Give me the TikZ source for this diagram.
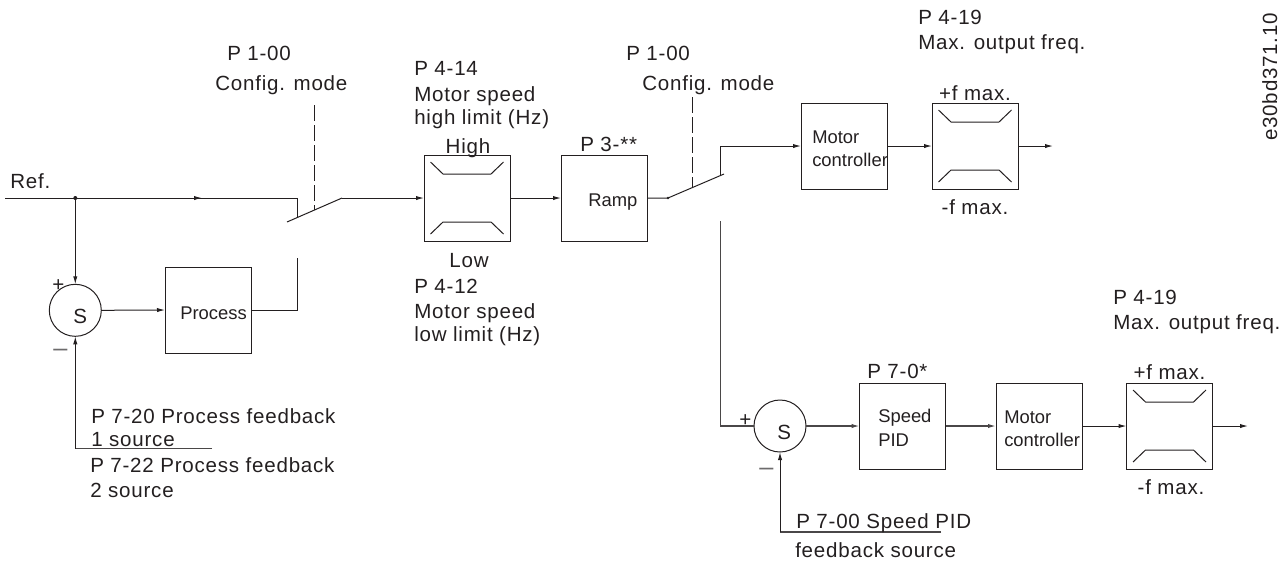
\documentclass[tikz,border=0pt]{standalone}
\usepackage{fontspec}
\setmainfont{Liberation Sans}
\newfontfamily\labfont[LetterSpace=3.8]{Liberation Sans}
\usetikzlibrary{arrows.meta}
\definecolor{ink}{HTML}{231F20}
\definecolor{heavyink}{HTML}{4A4748}
\definecolor{minusink}{HTML}{6D6B6C}
\tikzset{
 x=0.75pt,y=-0.75pt,
 wire/.style={draw=ink,line width=0.75pt},
 tip/.style={-{Latex[length=6pt,width=3.2pt]}},
 flow/.style={wire,tip},
 hflow/.style={draw=heavyink,line width=1pt,tip},
 hwire/.style={draw=heavyink,line width=1pt},
 blockbox/.style={draw=ink,line width=0.75pt,minimum width=64.5pt,minimum height=64.5pt,inner sep=0pt,outer sep=0pt},
 sumcirc/.style={circle,draw=ink,line width=0.75pt,minimum size=39pt,inner sep=0pt,outer sep=0pt},
 lab/.style={anchor=base west,inner sep=0pt,text=ink,font=\labfont\fontsize{15.4}{18}\selectfont},
 labc/.style={lab,anchor=base},
 boxlab/.style={anchor=base west,inner sep=0pt,text=ink,font=\fontsize{13.8}{16}\selectfont},
 minuslab/.style={lab,text=minusink,font=\fontsize{19}{20}\selectfont},
 dashsw/.style={wire,dash pattern=on 12pt off 3pt},
}
\newcommand{\limiter}[1]{%
 \draw[wire] ([shift={(6.5,7)}]#1.north west) -- ([shift={(19,19)}]#1.north west) -- ([shift={(-19,19)}]#1.north east) -- ([shift={(-6.5,7)}]#1.north east);
 \draw[wire] ([shift={(6.5,-7)}]#1.south west) -- ([shift={(19,-19)}]#1.south west) -- ([shift={(-19,-19)}]#1.south east) -- ([shift={(-6.5,-7)}]#1.south east);
}
\begin{document}
\begin{tikzpicture}
\useasboundingbox (0,0) rectangle (1287,562);
% blocks
\node[sumcirc] (s1) at (75.3,310.3) {};
\node[blockbox] (proc) at (208,310) {};
\node[blockbox] (lim1) at (467,198) {};
\node[blockbox] (ramp) at (604,198) {};
\node[blockbox] (mc1) at (844,146) {};
\node[blockbox] (lim2) at (975,146) {};
\node[sumcirc] (s2) at (780,426) {};
\node[blockbox] (pid) at (902.6,426) {};
\node[blockbox] (mc2) at (1039,426) {};
\node[blockbox] (lim3) at (1169.5,426) {};
\limiter{lim1}\limiter{lim2}\limiter{lim3}
% coordinates
\coordinate (refstart) at (5,198);
\coordinate (refmid) at (202,198);
\coordinate (j1) at (75.3,198);
\coordinate (c1) at (297,198);
\coordinate (c1b) at (297,217);
\coordinate (sw1a) at (287,222);
\coordinate (sw1b) at (342,198);
\coordinate (p1) at (297,310);
\coordinate (p1t) at (297,258);
\coordinate (d1t) at (314,105);
\coordinate (d1b) at (314,210);
\coordinate (sw2a) at (668,198);
\coordinate (sw2b) at (724,174);
\coordinate (u1) at (720.7,175);
\coordinate (u2) at (720.7,146);
\coordinate (d2t) at (692,97);
\coordinate (d2b) at (692,187);
\coordinate (v1) at (720.7,221);
\coordinate (v2) at (720.7,426);
\coordinate (o1) at (1053,146);
\coordinate (o2) at (1248,426);
\coordinate (f1a) at (75.3,448.7);
\coordinate (f1b) at (212,448.7);
\coordinate (f2a) at (780,532);
\coordinate (f2b) at (941,532);
% wires
\draw[wire] (refstart) -- (c1) -- (c1b);
\draw[flow] (refstart) -- (refmid);
\fill[ink] (j1) circle (1.5pt);
\draw[flow] (j1) -- (s1.north);
\draw[flow] (s1.east) -- (proc.west);
\draw[wire] (proc.east) -- (p1) -- (p1t);
\draw[wire] (sw1a) -- (sw1b);
\draw[dashsw] (d1t) -- (d1b);
\draw[flow] (sw1b) -- (lim1.west);
\draw[flow] (lim1.east) -- (ramp.west);
\draw[wire] (ramp.east) -- (sw2a) -- (sw2b);
\fill[ink] (sw2a) circle (1pt);
\draw[dashsw] (d2t) -- (d2b);
\draw[flow] (u1) -- (u2) -- (mc1.west);
\draw[flow] (mc1.east) -- (lim2.west);
\draw[flow] (lim2.east) -- (o1);
\draw[hwire] (v1) -- (v2) -- (s2.west);
\draw[hflow] (s2.east) -- (pid.west);
\draw[hflow] (pid.east) -- (mc2.west);
\draw[flow] (mc2.east) -- (lim3.west);
\draw[flow] (lim3.east) -- (o2);
\draw[hwire] (f1b) -- (f1a);
\draw[flow] (f1a) -- (s1.south);
\draw[hwire] (f2b) -- (f2a);
\draw[flow] (f2a) -- (s2.south);
% labels
\node[lab] (t1) at (10,188) {Ref.};
\node[lab] (t2) at (52,291) {+};
\node[minuslab] (t3) at (53,356) {–};
\node[lab] (t4) at (73,323) {S};
\node[boxlab] (t5) at (180,319) {Process};
\node[lab] (t6) at (91,423) {P 7-20 Process feedback};
\node[lab] (t7) at (91,446) {1 source};
\node[lab] (t8) at (90,472) {P 7-22 Process feedback};
\node[lab] (t9) at (90,497) {2 source};
\node[lab] (t10) at (227,60) {P 1-00};
\node[lab] (t11) at (215,90) {Config. mode};
\node[lab] (t12) at (414,75) {P 4-14};
\node[lab] (t13) at (414,101) {Motor speed};
\node[lab] (t14) at (414,124) {high limit (Hz)};
\node[labc] (t15) at (468,153) {High};
\node[labc] (t16) at (469,267) {Low};
\node[lab] (t17) at (414,293) {P 4-12};
\node[lab] (t18) at (414,318) {Motor speed};
\node[lab] (t19) at (414,341) {low limit (Hz)};
\node[lab] (t20) at (580,151) {P 3-**};
\node[boxlab] (t21) at (588,206) {Ramp};
\node[lab] (t22) at (626,60) {P 1-00};
\node[lab] (t23) at (642,90) {Config. mode};
\node[boxlab] (t24) at (812,143) {Motor};
\node[boxlab] (t25) at (812,166) {controller};
\node[lab] (t26) at (918,24) {P 4-19};
\node[lab] (t27) at (918,49) {Max. output freq.};
\node[labc] (t28) at (975,100) {+f max.};
\node[labc] (t29) at (975,214) {-f max.};
\node[lab,rotate=90] (t30) at (1277,141) {e30bd371.10};
\node[lab] (t31) at (1113,304) {P 4-19};
\node[lab] (t32) at (1113,329) {Max. output freq.};
\node[lab] (t33) at (739,426) {+};
\node[minuslab] (t34) at (759,475) {–};
\node[lab] (t35) at (777,439) {S};
\node[lab] (t36) at (867,378) {P 7-0*};
\node[boxlab] (t37) at (878,422) {Speed};
\node[boxlab] (t38) at (878,446) {PID};
\node[boxlab] (t39) at (1004,423) {Motor};
\node[boxlab] (t40) at (1004,446) {controller};
\node[labc] (t41) at (1169.5,379) {+f max.};
\node[labc] (t42) at (1171,494) {-f max.};
\node[lab] (t43) at (796,528) {P 7-00 Speed PID};
\node[lab] (t44) at (795,557) {feedback source};
\end{tikzpicture}
\end{document}
